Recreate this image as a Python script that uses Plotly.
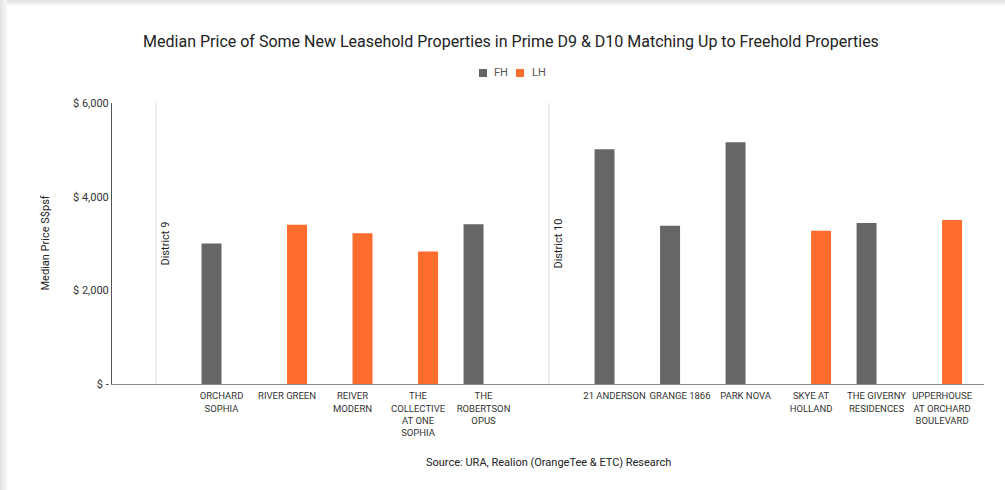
import plotly.graph_objects as go

categories = ["District 9", "ORCHARD SOPHIA", "RIVER GREEN", "REIVER MODERN",
              "THE COLLECTIVE AT ONE SOPHIA", "THE ROBERTSON OPUS",
              "District 10", "21 ANDERSON", "GRANGE 1866", "PARK NOVA",
              "SKYE AT HOLLAND", "THE GIVERNY RESIDENCES",
              "UPPERHOUSE AT ORCHARD BOULEVARD"]
tick_labels = ["", "ORCHARD<br>SOPHIA", "RIVER GREEN", "REIVER<br>MODERN",
               "THE<br>COLLECTIVE<br>AT ONE<br>SOPHIA", "THE<br>ROBERTSON<br>OPUS",
               "", "21 ANDERSON", "GRANGE 1866", "PARK NOVA",
               "SKYE AT<br>HOLLAND", "THE GIVERNY<br>RESIDENCES",
               "UPPERHOUSE<br>AT ORCHARD<br>BOULEVARD"]
fh_values = [None, 3000, None, None, None, 3410, None, 5010, 3380, 5160, None, 3440, None]
lh_values = [None, None, 3400, 3220, 2830, None, None, None, None, None, 3270, None, 3500]
districts = ["District 9", "District 10"]
y_ticks = [0, 2000, 4000, 6000]
y_tick_labels = ["$ -", "$ 2,000", "$ 4,000", "$ 6,000"]
series_names = ["FH", "LH"]

FH_COLOR = "#666666"
LH_COLOR = "#ff6d2e"
colors = [FH_COLOR, LH_COLOR]
FONT = "Roboto"

W, H = 1005, 490
L, R, T, B = 112, 21, 103, 106
pw, ph = W - L - R, H - T - B


def px_x(p):
    return (p - L) / pw


def px_y(p):
    return (H - B - p) / ph


fig = go.Figure()
fig.add_trace(go.Bar(name="FH", x=categories, y=fh_values, marker_color=FH_COLOR,
                     marker_line_width=0, showlegend=False))
fig.add_trace(go.Bar(name="LH", x=categories, y=lh_values, marker_color=LH_COLOR,
                     marker_line_width=0, showlegend=False))

for d in districts:
    fig.add_shape(type="line", xref="x", yref="y", x0=d, x1=d, y0=0, y1=6000,
                  line=dict(color="#d9d9d9", width=1), layer="below")
    fig.add_annotation(x=d, y=3000, xref="x", yref="y", text=d, textangle=-90,
                       showarrow=False, xshift=9,
                       font=dict(family=FONT, size=11, color="#222222"))

# legend drawn manually (compact spacing like the original)
leg_sq = [479, 516]
leg_txt = [492, 530]
for name, col, sx, tx in zip(series_names, colors, leg_sq, leg_txt):
    fig.add_shape(type="rect", xref="paper", yref="paper",
                  x0=px_x(sx), x1=px_x(sx + 8), y0=px_y(77), y1=px_y(69),
                  fillcolor=col, line_width=0)
    fig.add_annotation(xref="paper", yref="paper", x=px_x(tx), y=px_y(73),
                       xanchor="left", yanchor="middle", text=name, showarrow=False,
                       font=dict(family=FONT, size=11, color="#555555"))

# card shadow (left and top)
shadow = [("#e4e4e4", 0, 2), ("#ececec", 2, 4), ("#f3f3f3", 4, 7)]
for col, a, b in shadow:
    fig.add_shape(type="rect", xref="paper", yref="paper",
                  x0=px_x(a), x1=px_x(b), y0=px_y(H), y1=px_y(0),
                  fillcolor=col, line_width=0, layer="below")
tshadow = [("#e6e6e6", 0, 2), ("#efefef", 2, 4), ("#f6f6f6", 4, 5)]
for col, a, b in tshadow:
    fig.add_shape(type="rect", xref="paper", yref="paper",
                  x0=px_x(7), x1=px_x(W), y0=px_y(b), y1=px_y(a),
                  fillcolor=col, line_width=0, layer="below")

fig.add_annotation(xref="paper", yref="paper", x=px_x(45), y=0.5,
                   xanchor="center", yanchor="middle",
                   text="Median Price S$psf", textangle=-90, showarrow=False,
                   font=dict(family=FONT, size=11, color="#222222"))
fig.add_annotation(xref="paper", yref="paper", x=0.5, y=px_y(462),
                   xanchor="center", yanchor="middle",
                   text="Source: URA, Realion (OrangeTee & ETC) Research",
                   showarrow=False, font=dict(family=FONT, size=11, color="#222222"))

fig.update_layout(
    width=W, height=H,
    margin=dict(l=L, r=R, t=T, b=B, pad=0),
    paper_bgcolor="white", plot_bgcolor="white",
    barmode="group", bargap=0.39, bargroupgap=0,
    showlegend=False,
    title=dict(text="Median Price of Some New Leasehold Properties in Prime D9 &amp; D10 Matching Up to Freehold Properties",
               x=px_x(511), xref="paper", xanchor="center",
               y=1 - 41 / H, yanchor="middle",
               font=dict(family=FONT, size=16, color="#222222")),
    font=dict(family=FONT, color="#444444"),
    xaxis=dict(type="category", categoryorder="array", categoryarray=categories,
               tickvals=categories, ticktext=tick_labels, range=[-0.672, 12.64],
               showline=True, linecolor="#888888", linewidth=1, showgrid=False,
               ticks="", ticklabelstandoff=3,
               tickfont=dict(family=FONT, size=9.5, color="#333333"),
               tickangle=0),
    yaxis=dict(range=[0, 6000], tickvals=y_ticks, ticktext=y_tick_labels,
               showline=True, linecolor="#555555", linewidth=1, showgrid=False,
               zeroline=False, ticks="", tickfont=dict(family=FONT, size=11, color="#333333")),
)

fig.write_html("out.html")
